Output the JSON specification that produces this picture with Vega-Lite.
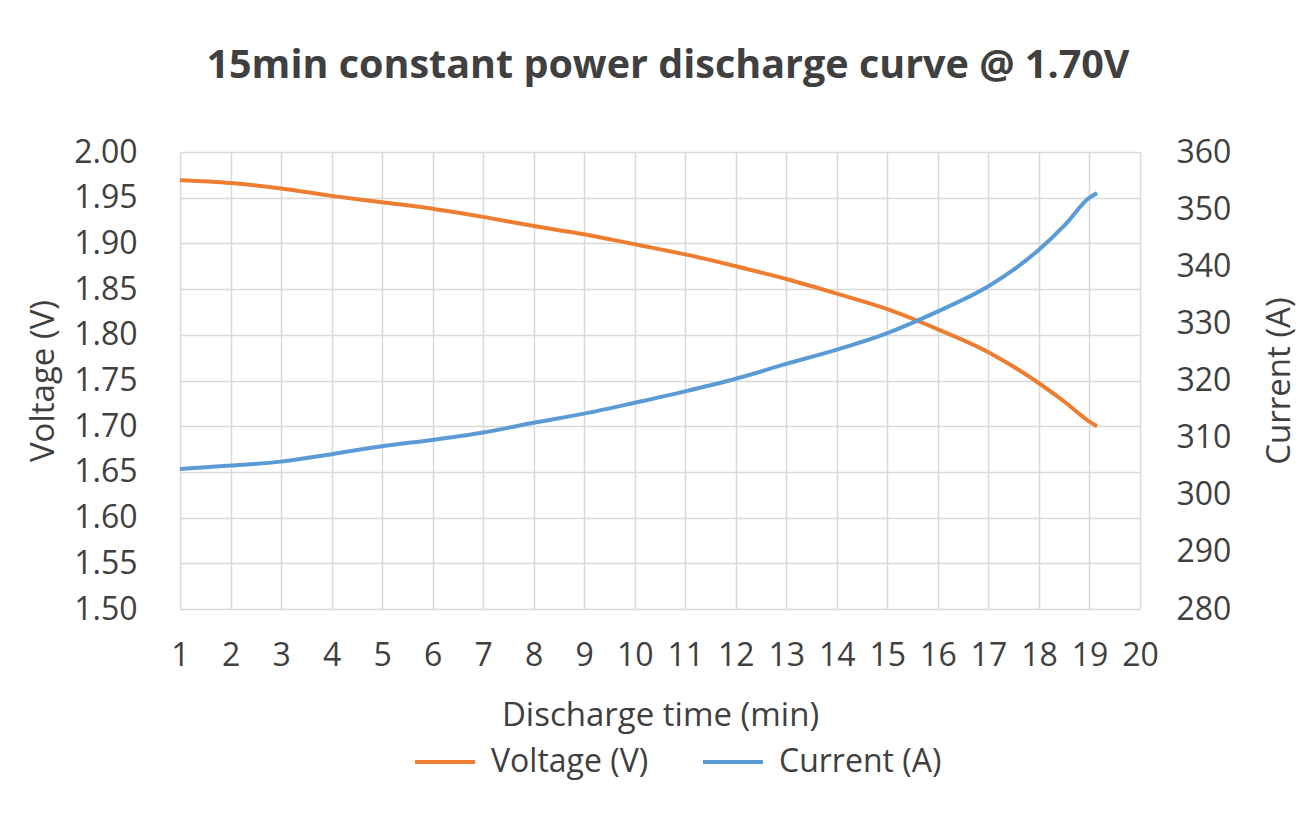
{
  "$schema": "https://vega.github.io/schema/vega-lite/v6.json",
  "width": 960,
  "height": 457,
  "autosize": "none",
  "padding": {"left": 180, "top": 152, "right": 176, "bottom": 224},
  "background": "white",
  "title": {
    "text": "15min constant power discharge curve @ 1.70V",
    "font": "Open Sans",
    "fontSize": 39.5,
    "fontWeight": "bold",
    "color": "#404040",
    "anchor": "middle",
    "dx": 8,
    "offset": 50
  },
  "config": {
    "view": {"stroke": null},
    "axis": {
      "domain": false,
      "ticks": false,
      "labelFont": "Open Sans",
      "labelFontSize": 32,
      "labelColor": "#404040",
      "titleFont": "Open Sans",
      "titleFontSize": 33,
      "titleFontWeight": "normal",
      "titleColor": "#404040",
      "gridColor": "#d9d9d9",
      "gridWidth": 1.5
    },
    "legend": {
      "labelFont": "Open Sans",
      "labelFontSize": 32,
      "labelColor": "#404040",
      "labelLimit": 400
    }
  },
  "data": {
    "values": [
      {"t": 1, "v": 1.969, "a": 304.5},
      {"t": 2, "v": 1.966, "a": 305.1},
      {"t": 3, "v": 1.960, "a": 305.8},
      {"t": 4, "v": 1.952, "a": 307.1},
      {"t": 5, "v": 1.945, "a": 308.5},
      {"t": 6, "v": 1.938, "a": 309.6},
      {"t": 7, "v": 1.929, "a": 310.9},
      {"t": 8, "v": 1.919, "a": 312.6},
      {"t": 9, "v": 1.910, "a": 314.2},
      {"t": 10, "v": 1.899, "a": 316.1},
      {"t": 11, "v": 1.888, "a": 318.1},
      {"t": 12, "v": 1.875, "a": 320.3},
      {"t": 13, "v": 1.861, "a": 322.9},
      {"t": 14, "v": 1.845, "a": 325.4},
      {"t": 15, "v": 1.828, "a": 328.3},
      {"t": 16, "v": 1.806, "a": 332.1},
      {"t": 17, "v": 1.781, "a": 336.5},
      {"t": 17.5, "v": 1.765, "a": 339.4},
      {"t": 18, "v": 1.747, "a": 342.9},
      {"t": 18.5, "v": 1.727, "a": 347.1},
      {"t": 19, "v": 1.705, "a": 352.0},
      {"t": 19.15, "v": 1.700, "a": 352.8}
    ]
  },
  "encoding": {
    "x": {
      "field": "t",
      "type": "quantitative",
      "scale": {"domain": [1, 20], "nice": false, "zero": false},
      "axis": {
        "title": "Discharge time (min)",
        "values": [1,2,3,4,5,6,7,8,9,10,11,12,13,14,15,16,17,18,19,20],
        "format": "d",
        "labelPadding": 31,
        "titlePadding": 28,
        "labelFlush": false,
        "labelOverlap": false
      }
    }
  },
  "layer": [
    {
      "mark": {"type": "line", "strokeWidth": 4, "interpolate": "monotone"},
      "encoding": {
        "y": {
          "field": "v",
          "type": "quantitative",
          "scale": {"domain": [1.5, 2.0], "nice": false, "zero": false},
          "axis": {
            "title": "Voltage (V)",
            "orient": "left",
            "values": [1.5,1.55,1.6,1.65,1.7,1.75,1.8,1.85,1.9,1.95,2.0],
            "format": ".2f",
            "labelPadding": 43,
            "titlePadding": 13
          }
        },
        "color": {
          "datum": "Voltage (V)",
          "type": "nominal",
          "scale": {"domain": ["Voltage (V)", "Current (A)"], "range": ["#ED7D31", "#5B9BD5"]},
          "legend": {
            "title": null,
            "orient": "none",
            "direction": "horizontal",
            "legendX": 233,
            "legendY": 578,
            "symbolType": "stroke",
            "symbolSize": 3600,
            "symbolStrokeWidth": 4,
            "labelOffset": 14,
            "columnPadding": 46
          }
        }
      }
    },
    {
      "mark": {"type": "line", "strokeWidth": 4, "interpolate": "monotone"},
      "encoding": {
        "y": {
          "field": "a",
          "type": "quantitative",
          "scale": {"domain": [280, 360], "nice": false, "zero": false},
          "axis": {
            "title": "Current (A)",
            "orient": "right",
            "grid": false,
            "values": [280,290,300,310,320,330,340,350,360],
            "labelPadding": 36,
            "titlePadding": 66,
            "titleAngle": 270
          }
        },
        "color": {"datum": "Current (A)", "type": "nominal"}
      }
    }
  ],
  "resolve": {"scale": {"y": "independent"}}
}
